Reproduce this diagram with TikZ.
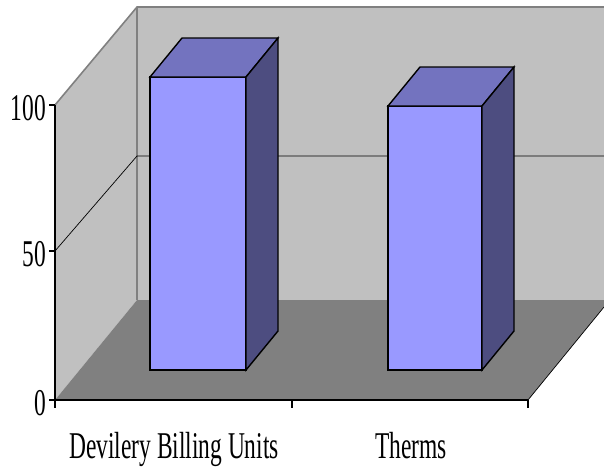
\documentclass[tikz,border=0pt]{standalone}
\usepackage{fontspec}
\setmainfont{Liberation Serif}
\usetikzlibrary{positioning}
\definecolor{wallgray}{HTML}{C0C0C0}
\definecolor{floorgray}{HTML}{808080}
\definecolor{edgegray}{HTML}{808080}
\definecolor{barfront}{HTML}{9999FF}
\definecolor{bartop}{HTML}{7373BF}
\definecolor{barside}{HTML}{4D4D80}
\newcommand{\squeeze}[1]{\scalebox{0.62}[1]{#1}}

\begin{document}
\begin{tikzpicture}[x=1pt, y=-1pt,
  wall/.style={fill=wallgray, draw=none},
  flooring/.style={fill=floorgray, draw=none},
  walledge/.style={draw=edgegray, line width=1.6pt},
  grid/.style={draw=black, line width=0.7pt},
  axis/.style={draw=black, line width=1.1pt},
  barface/.style={draw=black, line width=1.4pt, line join=miter},
  ticklab/.style={font=\fontsize{37.8}{40}\selectfont, inner sep=0pt, anchor=base east},
  catlab/.style={font=\fontsize{37.8}{40}\selectfont, inner sep=0pt, anchor=base}
]
  \useasboundingbox (0,0) rectangle (604,467);

  % walls and floor
  \fill[wall] (137,7) rectangle (604,300);
  \fill[wall] (55,105) -- (137,7) -- (137,300) -- (55,400) -- cycle;
  \fill[flooring] (55,400) -- (137,300) -- (604,300) -- (604,307) -- (528,400) -- cycle;
  \draw[walledge] (55,105) -- (137,7) -- (604,7);
  \draw[walledge] (137,7) -- (137,300);
  \draw[grid] (528,400) -- (604,307);

  % gridline at 50
  \draw[grid] (55,251) -- (137,156) -- (604,156);

  % bars: front left x / front top y / width
  \foreach \bx/\by/\bw in {150/77/96, 388/106/94}{
    \draw[barface, fill=barfront] (\bx,\by) rectangle (\bx+\bw,370);
    \draw[barface, fill=bartop] (\bx,\by) -- (\bx+32,\by-39) -- (\bx+\bw+32,\by-39) -- (\bx+\bw,\by) -- cycle;
    \draw[barface, fill=barside] (\bx+\bw,\by) -- (\bx+\bw+32,\by-39) -- (\bx+\bw+32,331) -- (\bx+\bw,370) -- cycle;
  }

  % axes and ticks
  \draw[axis] (55,105) -- (55,400) -- (528,400);
  \foreach \ty in {105,251,400}
    \draw[axis] (49,\ty) -- (55,\ty);
  \foreach \tx in {55,292,528}
    \draw[axis] (\tx,400) -- (\tx,408);

  % labels
  \node[ticklab] (lab100) at (46,120) {\squeeze{100}};
  \node[ticklab] (lab50) at (46,266) {\squeeze{50}};
  \node[ticklab] (lab0) at (46,415) {\squeeze{0}};
  \node[catlab] (dbu) at (174,458) {\squeeze{Devilery Billing Units}};
  \node[catlab] (therms) at (411,458) {\squeeze{Therms}};
\end{tikzpicture}
\end{document}
